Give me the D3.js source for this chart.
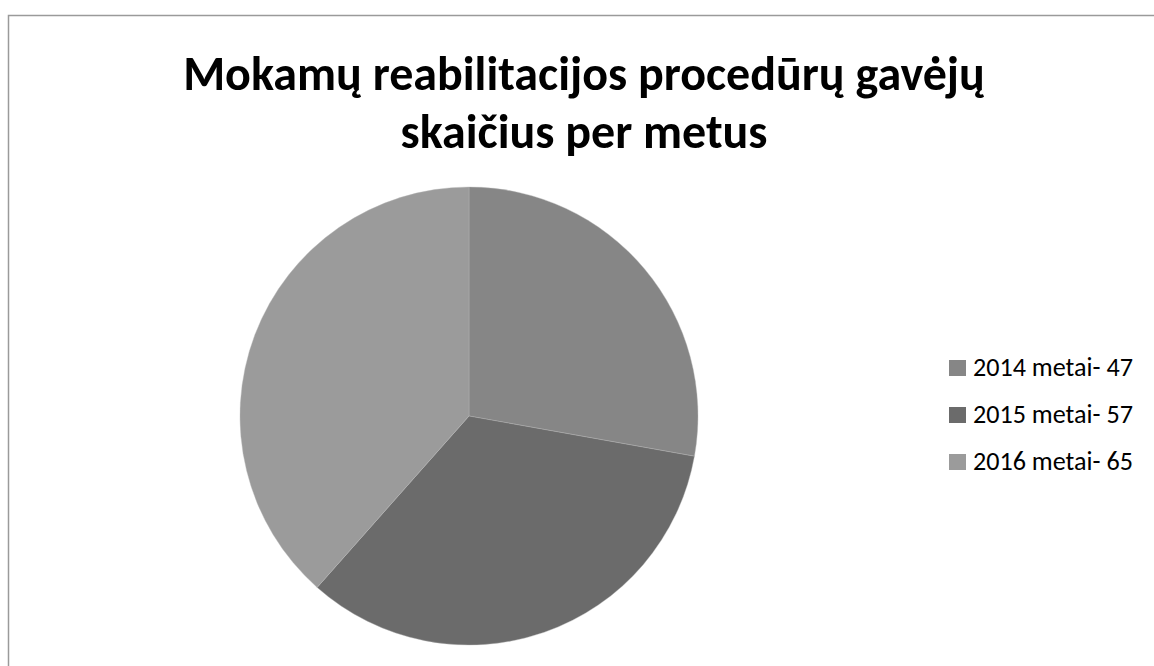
<!DOCTYPE html>
<html>
<head>
<meta charset="utf-8">
<script src="https://cdn.jsdelivr.net/npm/d3@7"></script>
<style>
  body { margin: 0; background: #fff; }
  svg { display: block; }
  text { font-family: Calibri, Carlito, "Open Sans", sans-serif; }
</style>
</head>
<body>
<svg id="chart" width="1154" height="666"></svg>
<script>
const titleLines = ["Mokamų reabilitacijos procedūrų gavėjų", "skaičius per metus"];
const categories = ["2014 metai- 47", "2015 metai- 57", "2016 metai- 65"];
const values = [47, 57, 65];
const colors = ["#868686", "#6b6b6b", "#9b9b9b"];

const svg = d3.select("#chart");
const width = 1154;
const height = 666;

// chart frame (only top and left edges are in view)
svg.append("rect")
  .attr("x", 8.5)
  .attr("y", 15.5)
  .attr("width", width + 10)
  .attr("height", height + 10)
  .attr("fill", "#fff")
  .attr("stroke", "#9a9a9a")
  .attr("stroke-width", 1.5);

// title, sized so the first line spans the same width as the reference
const fitText = (sel, target) => {
  const w = sel.node().getComputedTextLength();
  const size = parseFloat(sel.attr("font-size"));
  sel.attr("font-size", (size * target) / w);
};

const title = svg.append("g");
const t1 = title.append("text")
  .attr("x", 584)
  .attr("y", 90)
  .attr("text-anchor", "middle")
  .attr("font-weight", "bold")
  .attr("font-size", 40)
  .text(titleLines[0]);
fitText(t1, 802);
title.append("text")
  .attr("x", 584)
  .attr("y", 148)
  .attr("text-anchor", "middle")
  .attr("font-weight", "bold")
  .attr("font-size", t1.attr("font-size"))
  .text(titleLines[1]);

// pie
const cx = 469;
const cy = 416;
const radius = 229;

const pie = d3.pie().sort(null).value((d) => d);
const arc = d3.arc().innerRadius(0).outerRadius(radius);
const color = d3.scaleOrdinal().domain(categories).range(colors);

svg.append("g")
  .attr("transform", `translate(${cx}, ${cy})`)
  .selectAll("path")
  .data(pie(values))
  .enter()
  .append("path")
  .attr("d", arc)
  .attr("fill", (d, i) => color(categories[i]))
  .attr("stroke", "#b8b8b8")
  .attr("stroke-width", 0.4);

// legend
const legendY = d3.scalePoint().domain(categories).range([368, 462]);

const legend = svg.append("g")
  .selectAll("g")
  .data(categories)
  .enter()
  .append("g")
  .attr("transform", (d) => `translate(949, ${legendY(d)})`);

legend.append("rect")
  .attr("x", 0)
  .attr("y", -8)
  .attr("width", 17)
  .attr("height", 16)
  .attr("fill", (d) => color(d));

const labels = legend.append("text")
  .attr("x", 24)
  .attr("y", 8)
  .attr("font-size", 20)
  .attr("fill", "#000")
  .text((d) => d);
fitText(d3.select(labels.nodes()[0]), 160);
labels.attr("font-size", d3.select(labels.nodes()[0]).attr("font-size"));
</script>
</body>
</html>
